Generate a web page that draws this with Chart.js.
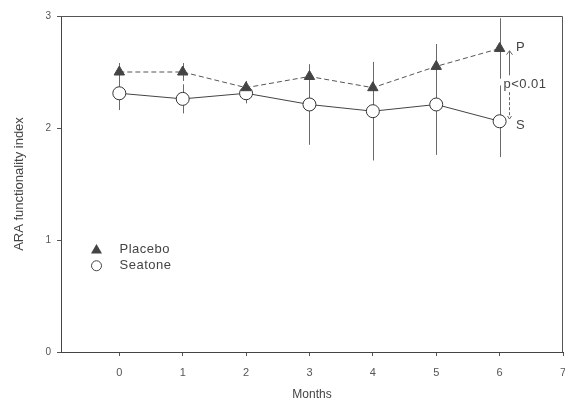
<!DOCTYPE html>
<html>
<head>
<meta charset="utf-8">
<script src="https://cdn.jsdelivr.net/npm/chart.js@4.4.0/dist/chart.umd.min.js"></script>
<style>
html,body{margin:0;padding:0;background:#fff;}
#wrap{width:565px;height:406px;}
</style>
</head>
<body>
<div id="wrap"><canvas id="c" width="565" height="406"></canvas></div>
<script>
const months = [0, 1, 2, 3, 4, 5, 6];
const xTicks = [0, 1, 2, 3, 4, 5, 6, 7];
const yTicks = [0, 1, 2, 3];
const placebo = [2.50, 2.50, 2.36, 2.46, 2.36, 2.55, 2.71];
const placeboErr = [0.08, 0.08, 0.06, 0.09, 0.14, 0.20, 0.27];
const seatone = [2.31, 2.26, 2.31, 2.21, 2.15, 2.21, 2.06];
const seatoneErr = [0.15, 0.13, 0.09, 0.36, 0.44, 0.45, 0.32];
const seriesNames = ['Placebo', 'Seatone'];
const annot = { pLabel: 'P', sLabel: 'S', sig: 'p<0.01' };

const FONT = '"Liberation Sans", Arial, sans-serif';

const errPlugin = {
  id: 'errs',
  beforeDatasetsDraw(chart) {
    const ctx = chart.ctx, xs = chart.scales.x, ys = chart.scales.y;
    ctx.save();
    ctx.strokeStyle = '#6a6a6a';
    ctx.lineWidth = 1;
    const sets = [[placebo, placeboErr], [seatone, seatoneErr]];
    sets.forEach(([v, e]) => {
      months.forEach((m, i) => {
        const x = Math.round(xs.getPixelForValue(m)) + 0.5;
        ctx.beginPath();
        ctx.moveTo(x, ys.getPixelForValue(v[i] + e[i]));
        ctx.lineTo(x, ys.getPixelForValue(v[i] - e[i]));
        ctx.stroke();
      });
    });
    ctx.restore();
  }
};

const framePlugin = {
  id: 'frame',
  afterDraw(chart) {
    const ctx = chart.ctx, a = chart.chartArea, xs = chart.scales.x, ys = chart.scales.y;
    ctx.save();
    ctx.strokeStyle = '#555';
    ctx.lineWidth = 1;
    ctx.beginPath();
    ctx.moveTo(a.left, a.top + 0.5);
    ctx.lineTo(a.right - 0.5, a.top + 0.5);
    ctx.lineTo(a.right - 0.5, a.bottom);
    ctx.stroke();

    // legend inside plot
    const lx = xs.getPixelForValue(-0.36), ly1 = ys.getPixelForValue(0.92), ly2 = ys.getPixelForValue(0.77);
    ctx.fillStyle = '#444';
    ctx.beginPath();
    ctx.moveTo(lx, ly1 - 5); ctx.lineTo(lx + 5.5, ly1 + 4.5); ctx.lineTo(lx - 5.5, ly1 + 4.5); ctx.closePath();
    ctx.fill();
    ctx.strokeStyle = '#444';
    ctx.fillStyle = '#fff';
    ctx.beginPath(); ctx.arc(lx, ly2, 5, 0, Math.PI * 2); ctx.fill(); ctx.stroke();
    ctx.fillStyle = '#444';
    ctx.font = '13px ' + FONT;
    ctx.textBaseline = 'middle';
    ctx.textAlign = 'left';
    ctx.letterSpacing = '0.5px';
    ctx.fillText(seriesNames[0], lx + 23, ly1);
    ctx.fillText(seriesNames[1], lx + 23, ly2);

    // annotation near month 6
    const ax = Math.round(xs.getPixelForValue(6.15)) + 0.5;
    ctx.strokeStyle = '#666';
    ctx.beginPath();
    ctx.moveTo(ax, ys.getPixelForValue(2.47));
    ctx.lineTo(ax, ys.getPixelForValue(2.69));
    ctx.stroke();
    const ta = ys.getPixelForValue(2.69);
    ctx.beginPath(); ctx.moveTo(ax - 3, ta + 4); ctx.lineTo(ax, ta); ctx.lineTo(ax + 3, ta + 4); ctx.stroke();
    ctx.setLineDash([3, 2]);
    ctx.beginPath();
    ctx.moveTo(ax, ys.getPixelForValue(2.32));
    ctx.lineTo(ax, ys.getPixelForValue(2.10));
    ctx.stroke();
    ctx.setLineDash([]);
    const tb = ys.getPixelForValue(2.08);
    ctx.beginPath(); ctx.moveTo(ax - 2, tb - 3); ctx.lineTo(ax, tb); ctx.lineTo(ax + 2, tb - 3); ctx.stroke();
    ctx.fillStyle = '#444';
    ctx.letterSpacing = '0px';
    ctx.font = '13px ' + FONT;
    ctx.fillText(annot.pLabel, xs.getPixelForValue(6.26), ys.getPixelForValue(2.72));
    ctx.fillText(annot.sLabel, xs.getPixelForValue(6.26), ys.getPixelForValue(2.02));
    ctx.font = '13px ' + FONT;
    ctx.letterSpacing = '0.5px';
    ctx.fillText(annot.sig, xs.getPixelForValue(6.06), ys.getPixelForValue(2.39));
    ctx.restore();
  }
};

new Chart(document.getElementById('c'), {
  type: 'line',
  data: {
    datasets: [
      {
        label: seriesNames[0],
        data: months.map((m, i) => ({ x: m, y: placebo[i] })),
        borderColor: '#555',
        borderWidth: 1,
        borderDash: [5, 3],
        pointStyle: 'triangle',
        pointRadius: 6,
        pointBackgroundColor: '#444',
        pointBorderColor: '#444',
        pointBorderWidth: 1,
        tension: 0
      },
      {
        label: seriesNames[1],
        data: months.map((m, i) => ({ x: m, y: seatone[i] })),
        borderColor: '#444',
        borderWidth: 1,
        pointStyle: 'circle',
        pointRadius: 6.5,
        pointBackgroundColor: '#fff',
        pointBorderColor: '#333',
        pointBorderWidth: 1,
        tension: 0
      }
    ]
  },
  options: {
    responsive: false,
    animation: false,
    layout: { autoPadding: false, padding: { top: 16, right: 2, left: 0, bottom: 0 } },
    plugins: { legend: { display: false }, tooltip: { enabled: false } },
    scales: {
      x: {
        type: 'linear',
        min: -0.92,
        max: 7,
        afterBuildTicks(s) { s.ticks = xTicks.map(v => ({ value: v })); },
        afterFit(s) { s.height = 54; s.paddingLeft = 0; s.paddingRight = 0; },
        grid: { display: true, drawOnChartArea: false, drawTicks: true, tickLength: 4, color: '#555' },
        border: { display: true, color: '#444', width: 1 },
        ticks: { color: '#555', font: { family: FONT, size: 11 }, padding: 10, maxRotation: 0 },
        title: { display: true, text: 'Months', color: '#444', font: { family: FONT, size: 12 }, padding: { top: 4 } }
      },
      y: {
        min: 0,
        max: 3,
        afterBuildTicks(s) { s.ticks = yTicks.map(v => ({ value: v })); },
        afterFit(s) { s.width = 61; s.paddingTop = 0; s.paddingBottom = 0; },
        grid: { display: true, drawOnChartArea: false, drawTicks: true, tickLength: 4, color: '#555' },
        border: { display: true, color: '#444', width: 1 },
        ticks: { color: '#555', font: { family: FONT, size: 10 }, padding: 6 },
        title: { display: true, text: 'ARA functionality index', color: '#444', font: { family: FONT, size: 13 }, padding: { top: 12, bottom: 4 } }
      }
    }
  },
  plugins: [errPlugin, framePlugin]
});
</script>
</body>
</html>
